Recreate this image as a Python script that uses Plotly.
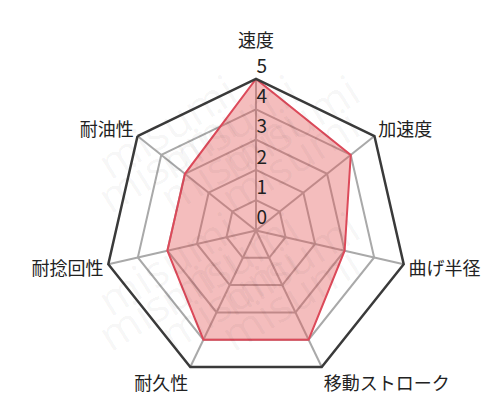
import plotly.graph_objects as go

# 評価項目（時計回り、上から）
categories = ['速度', '加速度', '曲げ半径', '移動ストローク', '耐久性', '耐捻回性', '耐油性']
scores = [5, 4, 3, 4, 4, 3, 3]
tick_vals = [0, 1, 2, 3, 4, 5]
tick_labels = ['0', '1', '2', '3', '4', '5']

# 透かし文字の位置 (paper座標)
wm_x = [0.15, 0.44, 0.73]
wm_y = [0.88, 0.63, 0.38, 0.13]

fig = go.Figure()

fig.add_trace(go.Scatterpolar(
    r=scores + scores[:1],
    theta=categories + categories[:1],
    mode='lines',
    fill='toself',
    fillcolor='rgba(228,90,90,0.4)',
    line=dict(color='#dc4a5a', width=2),
    hoverinfo='skip',
))

# 透かし
annotations = []
for yy in wm_y:
    for xx in wm_x:
        annotations.append(dict(
            text='misumi', x=xx, y=yy, xref='paper', yref='paper',
            showarrow=False, textangle=-32,
            font=dict(family='Noto Sans', size=44, color='rgba(0,0,0,0.035)'),
        ))

# 上の項目名だけ少し持ち上げる
angular_text = [c + '<br> ' if c == '速度' else c for c in categories]

fig.update_layout(
    width=500, height=412,
    margin=dict(l=0, r=0, t=0, b=0),
    paper_bgcolor='white',
    showlegend=False,
    font=dict(family='Noto Sans CJK JP', color='#222'),
    polar=dict(
        domain=dict(x=[0.193, 0.799], y=[0.092, 0.828]),
        bgcolor='rgba(0,0,0,0)',
        gridshape='linear',
        radialaxis=dict(
            range=[0, 5], angle=90, tickangle=90,
            tickvals=tick_vals, ticktext=[t + '<br> ' for t in tick_labels],
            showline=False, ticks='',
            gridcolor='#a9a9a9', gridwidth=1.5,
            tickfont=dict(size=19, color='#222'),
        ),
        angularaxis=dict(
            rotation=90, direction='clockwise',
            tickvals=categories, ticktext=angular_text,
            showline=True, linecolor='#3a3a3a', linewidth=2.5,
            gridcolor='#a9a9a9', gridwidth=1.5, ticks='',
            tickfont=dict(size=18, color='#222'),
        ),
    ),
    annotations=annotations,
)

fig.write_html('out.html')
